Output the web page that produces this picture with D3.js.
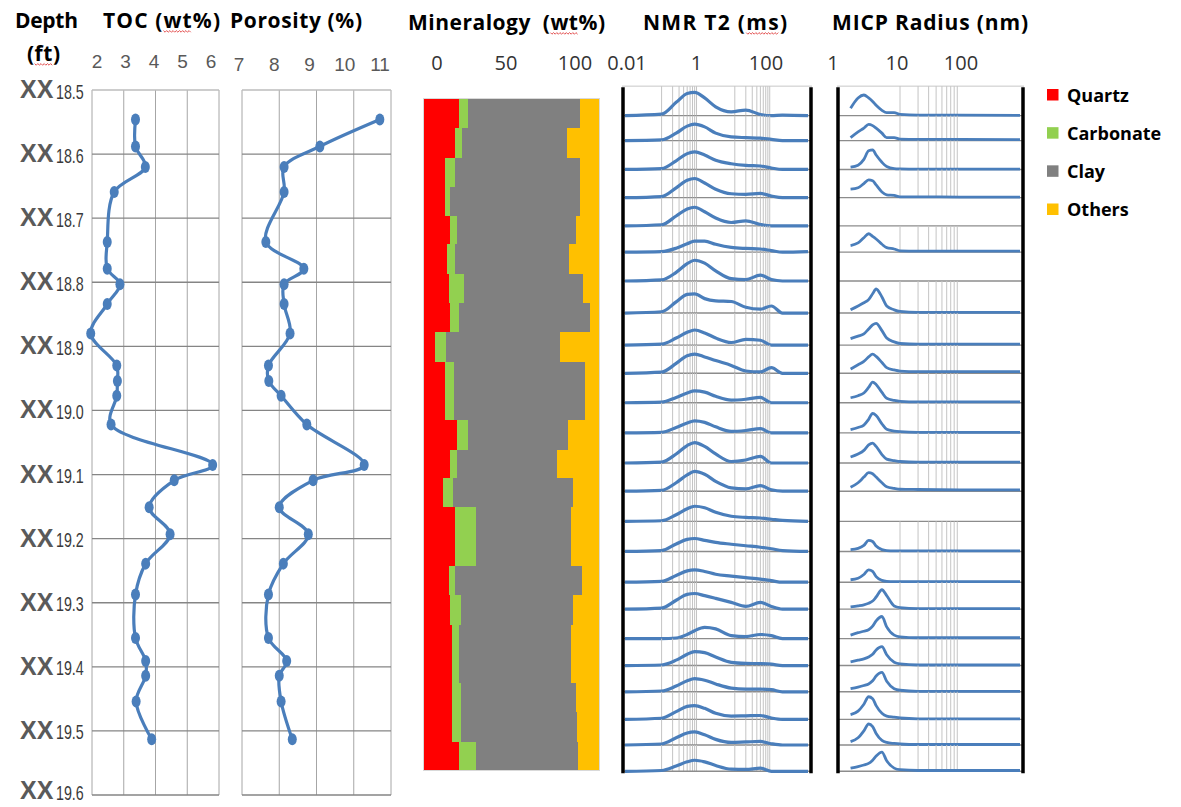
<!DOCTYPE html>
<html>
<head>
<meta charset="utf-8">
<script src="https://cdn.jsdelivr.net/npm/d3@7"></script>
<style>
  body { margin: 0; background: #fff; }
  svg { display: block; }
  .title { font-family: "Open Sans", sans-serif; font-weight: 700; font-size: 21px; fill: #000; }
  .tick-narrow { font-family: "Liberation Sans Narrow", "Arial Narrow", sans-serif; font-size: 19px; fill: #595959; }
  .tick-wide { font-family: "Open Sans", sans-serif; font-size: 20px; fill: #333; }
  .depth-xx { font-family: "Liberation Sans", Arial, sans-serif; font-weight: 700; font-size: 25px; fill: #5a5a5a; }
  .depth-num { font-family: "Liberation Sans", Arial, sans-serif; font-size: 21px; fill: #3a3a3a; }
  .legend text { font-family: "Open Sans", sans-serif; font-weight: 700; font-size: 18px; fill: #000; }
</style>
</head>
<body>
<svg id="chart" width="1181" height="807"></svg>
<script>
// ---- data ----
const depthTicks = [18.5, 18.6, 18.7, 18.8, 18.9, 19.0, 19.1, 19.2, 19.3, 19.4, 19.5, 19.6];

const sampleDepth = [18.546, 18.588, 18.620, 18.659, 18.737, 18.779, 18.803, 18.834, 18.880, 18.930, 18.954, 18.977,
                     19.022, 19.085, 19.109, 19.151, 19.193, 19.239, 19.287, 19.355, 19.391, 19.414, 19.454, 19.513];
const toc = [3.37, 3.37, 3.68, 2.70, 2.48, 2.48, 2.88, 2.48, 1.96, 2.78, 2.80, 2.78,
             2.60, 5.80, 4.59, 3.80, 4.46, 3.69, 3.37, 3.37, 3.69, 3.69, 3.39, 3.88];
const porosity = [10.70, 9.09, 8.13, 8.13, 7.64, 8.66, 8.13, 8.13, 8.29, 7.71, 7.72, 8.05,
                  8.74, 10.28, 8.91, 8.00, 8.78, 8.11, 7.71, 7.71, 8.20, 8.00, 8.05, 8.35];

const tocTicks = [2, 3, 4, 5, 6];
const porosityTicks = [7, 8, 9, 10, 11];
const mineralTicks = [0, 50, 100];
const nmrTicks = [0.01, 1, 100];
const micpTicks = [1, 10, 100];

// mineralogy: 23 intervals, boundaries in ft
const mineralNames = ["Quartz", "Carbonate", "Clay", "Others"];
const mineralColors = ["#ff0000", "#92d050", "#808080", "#ffc000"];
const mineralBounds = [18.514, 18.560, 18.606, 18.651, 18.696, 18.741, 18.787, 18.832, 18.878, 18.924, 18.970, 19.015,
                       19.061, 19.106, 19.151, 19.197, 19.243, 19.288, 19.334, 19.379, 19.425, 19.470, 19.517, 19.562];
const quartz =    [20.6, 18.2, 12.5, 12.5, 15.3, 13.8, 14.8, 15.3, 6.8, 12.5, 12.5, 19.5, 15.3, 11.6, 18.2, 18.2, 14.8, 15.3, 16.7, 16.7, 16.7, 16.7, 20.5];
const carbonate = [5.2, 3.8, 5.7, 2.8, 4.2, 4.4, 8.5, 5.2, 6.3, 5.1, 5.1, 6.3, 4.2, 5.6, 11.9, 11.9, 3.4, 6.1, 3.8, 3.8, 4.7, 4.7, 9.6];
const clay =      [63.4, 59.6, 71.0, 73.9, 67.4, 64.9, 67.8, 74.4, 64.7, 74.4, 74.4, 56.8, 56.5, 67.8, 53.8, 53.8, 72.0, 63.6, 63.4, 63.4, 65.5, 66.3, 58.0];
const others =    [10.8, 18.4, 10.8, 10.8, 13.1, 16.9, 8.9, 5.1, 22.2, 8.0, 8.0, 17.4, 24.0, 15.0, 16.1, 16.1, 9.8, 15.0, 16.1, 16.1, 13.1, 12.3, 11.9];

// stacked NMR / MICP strips: top of first strip and base of each strip (ft)
const stripTop = 18.494;
const stripBase = [18.540, 18.579, 18.624, 18.668, 18.712, 18.753, 18.798, 18.848, 18.898, 18.942, 18.988, 19.035,
                   19.082, 19.126, 19.173, 19.220, 19.268, 19.310, 19.356, 19.398, 19.439, 19.482, 19.522, 19.563];

// NMR T2 distributions (amplitude as fraction of strip height)
const nmrT2 = [0.01, 0.1, 0.25, 0.5, 0.8, 1.5, 3, 8, 20, 50, 100, 200, 1000];
const nmrAmp = [
  [0, 0.05, 0.45, 0.75, 0.79, 0.60, 0.30, 0.13, 0.19, 0.04, 0, 0.02, 0],
  [0, 0.03, 0.30, 0.58, 0.66, 0.55, 0.30, 0.15, 0.12, 0.10, 0.05, 0, 0],
  [0, 0.03, 0.30, 0.55, 0.61, 0.50, 0.32, 0.20, 0.14, 0.12, 0.05, 0, 0],
  [0, 0.04, 0.35, 0.62, 0.68, 0.52, 0.30, 0.14, 0.12, 0.15, 0.06, 0, 0],
  [0, 0.04, 0.35, 0.60, 0.66, 0.50, 0.28, 0.12, 0.18, 0.05, 0, 0, 0],
  [0, 0.02, 0.15, 0.32, 0.42, 0.42, 0.30, 0.18, 0.14, 0.12, 0.06, 0, 0.02],
  [0, 0.04, 0.30, 0.60, 0.72, 0.62, 0.35, 0.08, 0.05, 0.20, 0.05, 0, 0],
  [0, 0.04, 0.35, 0.58, 0.60, 0.45, 0.38, 0.36, 0.18, 0.12, 0.22, 0, 0],
  [0, 0.03, 0.22, 0.40, 0.47, 0.38, 0.22, 0.08, 0.18, 0.15, 0, 0, 0],
  [0, 0.04, 0.35, 0.62, 0.68, 0.58, 0.45, 0.28, 0.08, 0.05, 0.20, 0, 0],
  [0, 0.02, 0.18, 0.33, 0.40, 0.36, 0.22, 0.09, 0.12, 0.18, 0, 0, 0],
  [0, 0.02, 0.18, 0.33, 0.40, 0.35, 0.20, 0.05, 0.08, 0.14, 0, 0, 0],
  [0, 0.03, 0.30, 0.58, 0.68, 0.55, 0.30, 0.05, 0.10, 0.22, 0, 0, 0],
  [0, 0.03, 0.30, 0.58, 0.70, 0.60, 0.35, 0.12, 0.08, 0.20, 0.05, 0, 0],
  [0, 0.02, 0.22, 0.42, 0.50, 0.45, 0.30, 0.17, 0.13, 0.11, 0.07, 0.03, 0],
  [0, 0.03, 0.25, 0.40, 0.43, 0.37, 0.30, 0.24, 0.19, 0.14, 0.09, 0.03, 0],
  [0, 0.03, 0.22, 0.37, 0.40, 0.35, 0.26, 0.20, 0.15, 0.10, 0.05, 0, 0],
  [0, 0.04, 0.33, 0.55, 0.58, 0.50, 0.40, 0.25, 0.10, 0.25, 0.10, 0, 0],
  [0, 0, 0.02, 0.14, 0.27, 0.38, 0.33, 0.10, 0.07, 0.14, 0.10, 0, 0],
  [0, 0.02, 0.20, 0.42, 0.52, 0.48, 0.32, 0.12, 0.08, 0.07, 0.05, 0, 0],
  [0, 0.03, 0.22, 0.42, 0.50, 0.44, 0.30, 0.14, 0.10, 0.10, 0.08, 0, 0],
  [0, 0.04, 0.28, 0.47, 0.50, 0.40, 0.22, 0.12, 0.13, 0.14, 0.05, 0, 0],
  [0, 0.04, 0.28, 0.47, 0.51, 0.40, 0.22, 0.10, 0.12, 0.14, 0.05, 0, 0],
  [0, 0.03, 0.20, 0.36, 0.42, 0.36, 0.22, 0.08, 0.07, 0.12, 0, 0, 0]
];
const nmrGrid = [0.1, 0.2, 0.3, 0.4, 0.5, 0.6, 0.7, 0.8, 0.9, 10, 20, 30, 40, 50, 60, 70, 80, 90];

// MICP pore throat radius distributions (null = no measurement)
const micpRadius = [1.5, 2, 2.5, 3, 3.5, 4, 5, 6, 8, 10, 20, 100, 1000];
const micpAmp = [
  [0.25, 0.60, 0.70, 0.60, 0.48, 0.35, 0.18, 0.10, 0.10, 0.04, 0.02, 0.02, 0.01],
  [0.12, 0.35, 0.50, 0.65, 0.60, 0.50, 0.30, 0.12, 0.12, 0.06, 0.05, 0.05, 0.04],
  [0.08, 0.15, 0.35, 0.65, 0.68, 0.50, 0.25, 0.10, 0.03, 0.02, 0.01, 0.01, 0.01],
  [0.30, 0.35, 0.50, 0.63, 0.60, 0.45, 0.20, 0.10, 0.08, 0.03, 0.03, 0.02, 0.02],
  null,
  [0.25, 0.35, 0.55, 0.70, 0.60, 0.50, 0.30, 0.17, 0.12, 0.05, 0.04, 0.04, 0.04],
  null,
  [0.10, 0.22, 0.32, 0.42, 0.60, 0.75, 0.50, 0.22, 0.10, 0.05, 0.02, 0.02, 0.02],
  [0.20, 0.28, 0.35, 0.50, 0.63, 0.68, 0.45, 0.22, 0.10, 0.05, 0.03, 0.03, 0.03],
  [0.15, 0.30, 0.42, 0.58, 0.68, 0.60, 0.38, 0.20, 0.12, 0.08, 0.06, 0.06, 0.06],
  [0.17, 0.24, 0.33, 0.52, 0.70, 0.62, 0.35, 0.15, 0.08, 0.05, 0.03, 0.03, 0.03],
  [0.11, 0.18, 0.26, 0.45, 0.65, 0.58, 0.30, 0.12, 0.06, 0.04, 0.02, 0.02, 0.02],
  [0.20, 0.30, 0.42, 0.60, 0.66, 0.55, 0.28, 0.13, 0.08, 0.05, 0.03, 0.03, 0.03],
  [0.14, 0.30, 0.50, 0.66, 0.62, 0.50, 0.30, 0.16, 0.10, 0.07, 0.06, 0.05, 0.05],
  null,
  [0.06, 0.10, 0.20, 0.37, 0.33, 0.18, 0.06, 0.03, 0.02, 0.02, 0.02, 0.02, 0.02],
  [0.08, 0.13, 0.25, 0.40, 0.35, 0.18, 0.06, 0.03, 0.02, 0.02, 0.02, 0.02, 0.02],
  [0.08, 0.12, 0.16, 0.22, 0.30, 0.45, 0.72, 0.50, 0.12, 0.06, 0.02, 0.02, 0.02],
  [0.12, 0.20, 0.25, 0.30, 0.42, 0.60, 0.75, 0.40, 0.12, 0.06, 0.03, 0.03, 0.03],
  [0.14, 0.20, 0.25, 0.32, 0.42, 0.58, 0.70, 0.40, 0.12, 0.06, 0.02, 0.02, 0.02],
  [0.12, 0.18, 0.24, 0.30, 0.42, 0.60, 0.74, 0.40, 0.12, 0.06, 0.02, 0.02, 0.02],
  [0.17, 0.30, 0.55, 0.82, 0.75, 0.50, 0.22, 0.12, 0.08, 0.05, 0.02, 0.02, 0.02],
  [0.13, 0.28, 0.55, 0.82, 0.72, 0.45, 0.18, 0.10, 0.06, 0.04, 0.02, 0.02, 0.02],
  [0.12, 0.18, 0.24, 0.30, 0.42, 0.58, 0.73, 0.40, 0.12, 0.06, 0.03, 0.03, 0.03]
];
const micpGrid = [10, 20, 30, 40, 50, 60, 70, 80, 90];

// ---- drawing ----
const svg = d3.select("#chart");
const blue = "#4a7ebb";

const y = d3.scaleLinear().domain([18.5, 19.6]).range([90, 795]);

const xToc = d3.scaleLinear().domain([2, 6]).range([92, 219]);
const xPor = d3.scaleLinear().domain([7, 11]).range([242, 391]);
const xMin = d3.scaleLinear().domain([0, 100]).range([423, 599]);
const xNmr = d3.scaleLog().domain([0.01, 1000]).range([625, 808]);
const xMicp = d3.scaleLog().domain([1, 1000]).range([840, 1020]);

// header label positions (labels were typed above the tracks, not aligned with the grid)
const hToc = d3.scaleLinear().domain([2, 6]).range([97, 211]);
const hPor = d3.scaleLinear().domain([7, 11]).range([239, 380]);
const hMin = d3.scaleLinear().domain([0, 100]).range([437, 575]);
const hNmr = d3.scaleLog().domain([0.01, 100]).range([627, 766]);
const hMicp = d3.scaleLog().domain([1, 100]).range([833, 961]);

// titles, with the red spell-check squiggles under a few words
const titles = [
  { x: 15, y: 28, w: 63, parts: [["Depth", false]] },
  { x: 27, y: 61, w: 33, parts: [["(", false], ["ft", true], [")", false]] },
  { x: 103, y: 28, w: 117, parts: [["TOC (", false], ["wt", true], ["%)", false]] },
  { x: 230, y: 28, w: 132, parts: [["Porosity (%)", false]] },
  { x: 408, y: 30, w: 197, parts: [["Mineralogy  (", false], ["wt", true], ["%)", false]] },
  { x: 643, y: 30, w: 144, parts: [["NMR T2 (", false], ["ms", true], [")", false]] },
  { x: 832, y: 30, w: 196, parts: [["MICP Radius (nm)", false]] }
];

titles.forEach(t => {
  const txt = svg.append("text")
    .attr("class", "title")
    .attr("x", t.x)
    .attr("y", t.y)
    .attr("textLength", t.w)
    .attr("lengthAdjust", "spacing")
    .attr("xml:space", "preserve");
  t.parts.forEach(p => {
    const ts = txt.append("tspan").text(p[0]);
    if (p[1]) ts.classed("spell", true);
  });
});

svg.selectAll("tspan.spell").each(function() {
  const b = this.getBBox();
  const yy = b.y + b.height - 3;
  const pts = d3.range(b.x, b.x + b.width, 1.6).map((px, i) => [px, yy + (i % 2 ? 1.2 : -0.4)]);
  svg.append("path")
    .attr("d", d3.line()(pts))
    .attr("fill", "none")
    .attr("stroke", "#e04040")
    .attr("stroke-width", 0.9);
});

// header tick labels
function headerLabels(ticks, scale, cls, baseline, fmt) {
  svg.append("g").selectAll("text")
    .data(ticks)
    .enter().append("text")
    .attr("class", cls)
    .attr("x", d => scale(d))
    .attr("y", baseline)
    .attr("text-anchor", "middle")
    .text(fmt || (d => d));
}
headerLabels(tocTicks, hToc, "tick-narrow", 68);
headerLabels(porosityTicks, hPor, "tick-narrow", 71);
headerLabels(mineralTicks, hMin, "tick-wide", 70);
headerLabels(nmrTicks, hNmr, "tick-wide", 70, d => d === 0.01 ? "0.01" : d);
headerLabels(micpTicks, hMicp, "tick-wide", 70);

// depth labels: bold "XX" plus a condensed number
const depthG = svg.append("g");
depthTicks.forEach(d => {
  const base = Math.min(y(d) + 8, 799);
  depthG.append("text")
    .attr("class", "depth-xx")
    .attr("x", 20)
    .attr("y", base)
    .text("XX");
  depthG.append("text")
    .attr("class", "depth-num")
    .attr("transform", `translate(56, ${base + 0.5}) scale(0.68, 1)`)
    .text(d.toFixed(1));
});

// TOC and porosity tracks
function logTrack(xs, ticks, values) {
  const g = svg.append("g");
  const [x0, x1] = xs.range();

  g.selectAll(".vgrid")
    .data(ticks)
    .enter().append("line")
    .attr("x1", d => xs(d)).attr("x2", d => xs(d))
    .attr("y1", y(18.5)).attr("y2", y(19.6))
    .attr("stroke", "#a6a6a6")
    .attr("stroke-width", 1);

  g.selectAll(".hgrid")
    .data(depthTicks)
    .enter().append("line")
    .attr("x1", x0).attr("x2", x1)
    .attr("y1", d => y(d)).attr("y2", d => y(d))
    .attr("stroke", (d, i) => i === 0 ? "#bdbdbd" : "#858585")
    .attr("stroke-width", 1.3);

  const pts = values.map((v, i) => [xs(v), y(sampleDepth[i])]);

  g.append("path")
    .attr("d", d3.line().curve(d3.curveCatmullRom.alpha(0.5))(pts))
    .attr("fill", "none")
    .attr("stroke", blue)
    .attr("stroke-width", 3.2)
    .attr("stroke-linejoin", "round");

  g.selectAll("ellipse")
    .data(pts)
    .enter().append("ellipse")
    .attr("cx", d => d[0])
    .attr("cy", d => d[1])
    .attr("rx", 4.5)
    .attr("ry", 6)
    .attr("fill", blue);
}
logTrack(xToc, tocTicks, toc);
logTrack(xPor, porosityTicks, porosity);

// mineralogy stacked bars
const mineralTable = quartz.map((q, i) => ({
  Quartz: q, Carbonate: carbonate[i], Clay: clay[i], Others: others[i]
}));
const stacked = d3.stack().keys(mineralNames)(mineralTable);
const color = d3.scaleOrdinal().domain(mineralNames).range(mineralColors);

const minG = svg.append("g").attr("shape-rendering", "crispEdges");
minG.selectAll("g")
  .data(stacked)
  .enter().append("g")
  .attr("fill", s => color(s.key))
  .selectAll("rect")
  .data(s => s)
  .enter().append("rect")
  .attr("x", d => xMin(d[0]))
  .attr("width", d => xMin(d[1]) - xMin(d[0]))
  .attr("y", (d, i) => y(mineralBounds[i]))
  .attr("height", (d, i) => y(mineralBounds[i + 1]) - y(mineralBounds[i]));

minG.append("rect")
  .attr("x", xMin(0)).attr("y", y(mineralBounds[0]))
  .attr("width", xMin(100) - xMin(0))
  .attr("height", y(mineralBounds[mineralBounds.length - 1]) - y(mineralBounds[0]))
  .attr("fill", "none")
  .attr("stroke", "#d9d9d9");

// stacked distribution strips (NMR and MICP)
function strips(xs, grid, xsData, amps, lineWidth) {
  const g = svg.append("g");
  const [x0, x1] = xs.range();
  const left = x0 - 3, right = x1 + 4;

  // top border
  g.append("line")
    .attr("x1", left).attr("x2", right)
    .attr("y1", y(stripTop)).attr("y2", y(stripTop))
    .attr("stroke", "#c8c8c8");

  stripBase.forEach((base, i) => {
    const top = i === 0 ? stripTop : stripBase[i - 1];
    const yStrip = d3.scaleLinear().domain([0, 1]).range([y(base), y(top)]);

    if (amps[i]) {
      g.selectAll(null)
        .data(grid)
        .enter().append("line")
        .attr("x1", d => xs(d)).attr("x2", d => xs(d))
        .attr("y1", y(top)).attr("y2", y(base))
        .attr("stroke", "#c4c4c4")
        .attr("stroke-width", 1);
    }

    g.append("line")
      .attr("x1", left).attr("x2", right)
      .attr("y1", y(base)).attr("y2", y(base))
      .attr("stroke", "#8c8c8c")
      .attr("stroke-width", 1.4);

    if (amps[i]) {
      const line = d3.line()
        .x((d, j) => xs(xsData[j]))
        .y(d => yStrip(d))
        .curve(d3.curveMonotoneX);
      g.append("path")
        .attr("d", line(amps[i]))
        .attr("fill", "none")
        .attr("stroke", blue)
        .attr("stroke-width", lineWidth)
        .attr("stroke-linejoin", "round");
    }
  });

  // the black y-axis lines of the stacked charts
  [left + 1, right - 1].forEach(xx => {
    g.append("line")
      .attr("x1", xx).attr("x2", xx)
      .attr("y1", y(stripTop) + 1).attr("y2", y(19.566))
      .attr("stroke", "#000")
      .attr("stroke-width", 3.5);
  });
}
strips(xNmr, nmrGrid, nmrT2, nmrAmp, 3.2);
strips(xMicp, micpGrid, micpRadius, micpAmp, 2.8);

// legend
const legend = svg.append("g").attr("class", "legend");
const legendY = d3.scalePoint().domain(mineralNames).range([95, 209.5]);
const item = legend.selectAll("g")
  .data(mineralNames)
  .enter().append("g")
  .attr("transform", d => `translate(1047, ${legendY(d)})`);
item.append("rect")
  .attr("x", 0).attr("y", -6)
  .attr("width", 11.5).attr("height", 11.5)
  .attr("fill", d => color(d));
item.append("text")
  .attr("x", 20).attr("y", 6.5)
  .text(d => d);
</script>
</body>
</html>
